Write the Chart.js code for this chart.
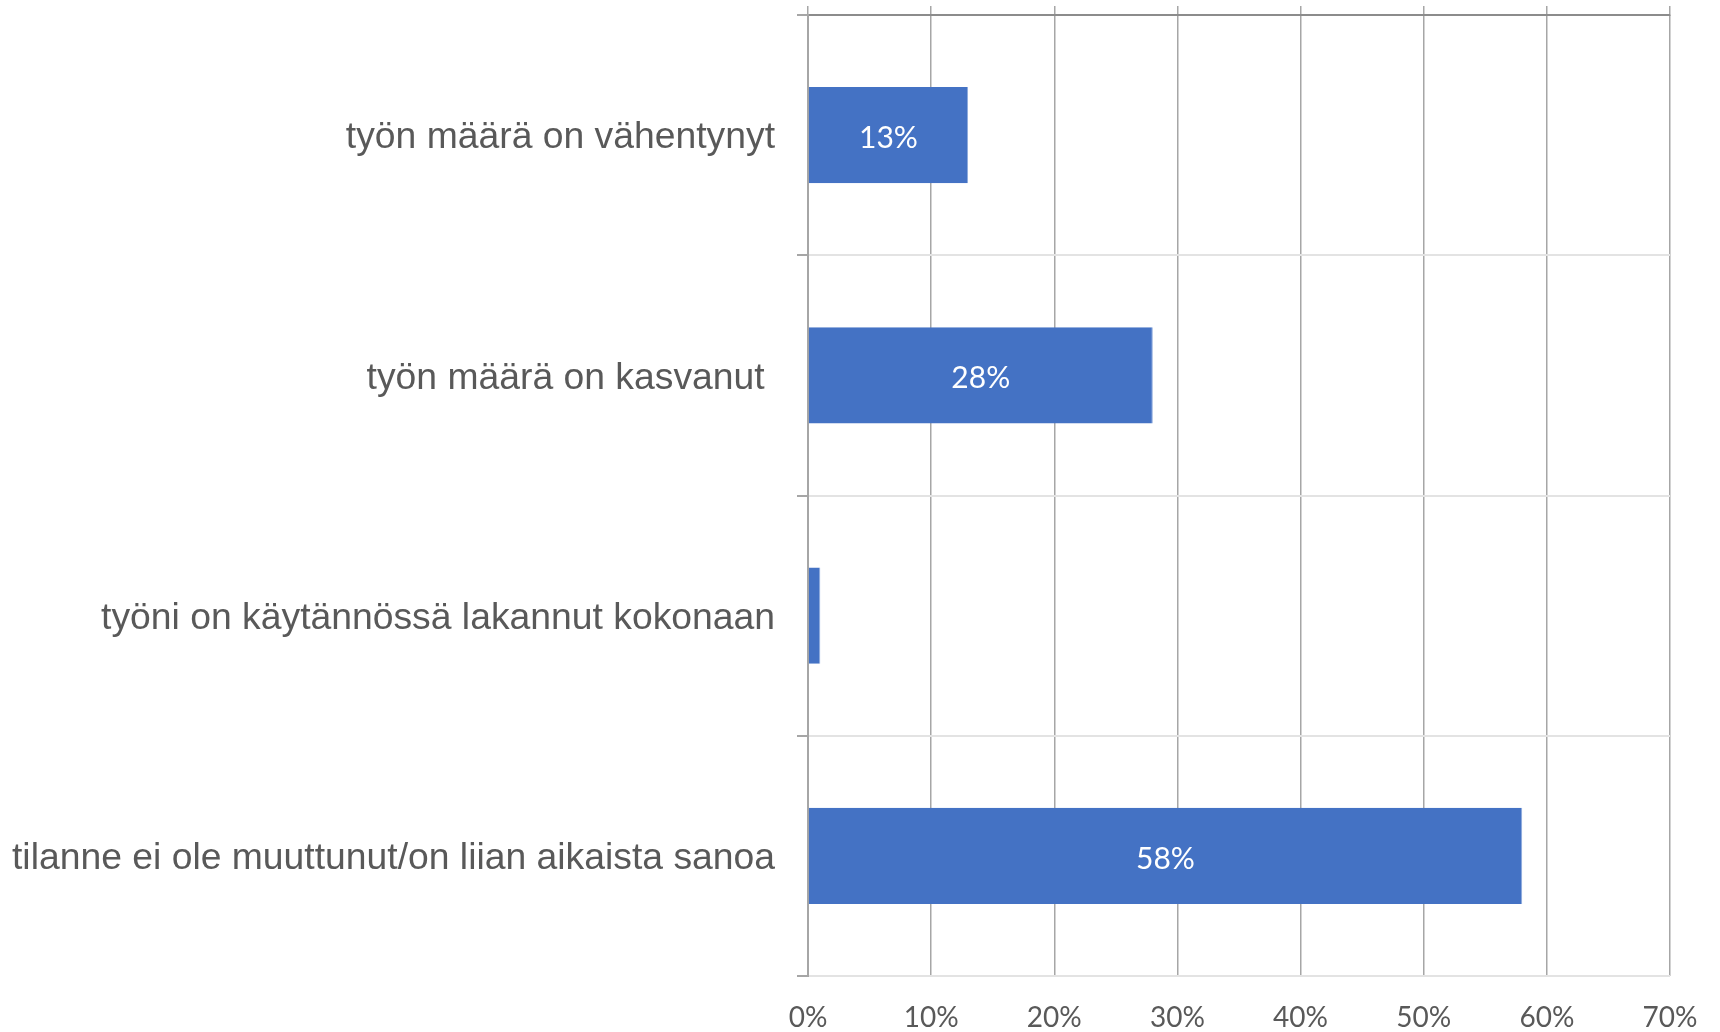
<!DOCTYPE html>
<html>
<head>
<meta charset="utf-8">
<script src="https://cdn.jsdelivr.net/npm/chart.js@4/dist/chart.umd.min.js"></script>
<style>
html,body{margin:0;padding:0;background:#fff;}
#wrap{width:1720px;height:1032px;position:relative;}
</style>
</head>
<body>
<div id="wrap"><canvas id="c"></canvas></div>
<script>
const categories = [
  "työn määrä on vähentynyt",
  "työn määrä on kasvanut ",
  "työni on käytännössä lakannut kokonaan",
  "tilanne ei ole muuttunut/on liian aikaista sanoa"
];
const values = [13, 28, 1, 58];
const valueLabels = ["13%", "28%", "", "58%"];
const axisMin = 0;
const axisMax = 70;
const axisStep = 10;

const barLabelPlugin = {
  id: 'barLabels',
  afterDatasetsDraw(chart) {
    const ctx = chart.ctx;
    const meta = chart.getDatasetMeta(0);
    ctx.save();
    ctx.font = '30px Lato';
    ctx.fillStyle = '#ffffff';
    ctx.textAlign = 'center';
    ctx.textBaseline = 'middle';
    meta.data.forEach((bar, i) => {
      const t = valueLabels[i];
      if (!t) return;
      const p = bar.getProps(['x', 'y', 'base'], true);
      ctx.fillText(t, (p.x + p.base) / 2, p.y + 3);
    });
    ctx.restore();
  }
};

new Chart(document.getElementById('c'), {
  type: 'bar',
  data: {
    labels: categories,
    datasets: [{
      data: values,
      backgroundColor: '#4472C4',
      borderColor: '#8eaadc',
      borderWidth: {right: 1, top: 0, bottom: 0, left: 0},
      borderSkipped: false,
      categoryPercentage: 1.0,
      barPercentage: 0.4
    }]
  },
  plugins: [barLabelPlugin],
  options: {
    indexAxis: 'y',
    responsive: true,
    maintainAspectRatio: false,
    animation: false,
    layout: {padding: {top: 6, right: 50, left: 0, bottom: 0}},
    plugins: {legend: {display: false}, tooltip: {enabled: false}},
    scales: {
      x: {
        type: 'linear',
        position: 'bottom',
        min: axisMin, max: axisMax,
        afterFit(s) { s.height = 56; s.paddingLeft = 0; s.paddingRight = 0; },
        border: {display: false},
        grid: {color: '#a6a6a6', lineWidth: 1.5, drawTicks: false},
        ticks: {
          stepSize: axisStep,
          padding: 25,
          color: '#595959',
          font: {family: 'Lato', size: 28},
          callback: v => v + '%'
        }
      },
      x2: {
        type: 'linear',
        position: 'top',
        min: axisMin, max: axisMax,
        afterFit(s) { s.height = 9; s.paddingLeft = 0; s.paddingRight = 0; },
        border: {display: true, color: '#8c8c8c', width: 2},
        grid: {drawOnChartArea: false, drawTicks: true, tickLength: 9, color: '#a6a6a6', lineWidth: 1.5},
        ticks: {display: false, stepSize: axisStep}
      },
      y: {
        type: 'category',
        position: 'left',
        offset: true,
        afterFit(s) { s.width = 808; s.paddingTop = 0; s.paddingBottom = 0; },
        border: {display: true, color: '#a6a6a6', width: 2},
        grid: {offset: true, color: '#e3e3e3', lineWidth: 2, tickColor: '#a6a6a6', tickLength: 11, drawTicks: true},
        ticks: {
          padding: 22,
          labelOffset: 3,
          color: '#595959',
          font: {family: 'Liberation Sans', size: 37.3}
        }
      }
    }
  }
});
</script>
</body>
</html>
